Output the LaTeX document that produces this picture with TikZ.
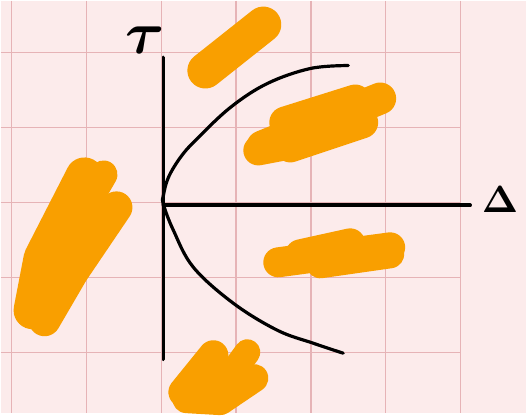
\documentclass[tikz,border=0pt]{standalone}
\usepackage{amsmath,amssymb,bm}
\usepackage{xcolor,graphicx}
\usetikzlibrary{arrows.meta,calc,positioning}
\definecolor{paper}{HTML}{FCEBEB}
\definecolor{gridred}{HTML}{E6B3B6}
\definecolor{scribble}{HTML}{F99F00}

\begin{document}
\begin{tikzpicture}[x=1pt,y=-1pt,
  gridline/.style={gridred,line width=1.2pt},
  blob/.style={scribble,line width=#1,line cap=round,line join=round},
  blob/.default=32pt,
  axis/.style={line width=3.8pt,line cap=round},
  curve/.style={line width=3.2pt,line cap=round,line join=round}]
  \fill[paper] (0,0) rectangle (526,413);
  \foreach \i in {0,...,6} \draw[gridline] ({10.7+75*\i},0) -- ({10.7+75*\i},413);
  \foreach \j in {0,...,4} \draw[gridline] (0,{52+75*\j}) -- (461,{52+75*\j});
  \coordinate (O) at (163,205);
  \coordinate (top) at (163,57);
  \coordinate (bot) at (163,359);
  \coordinate (right) at (470,205);
  \node (tau) at (145,40) {\scalebox{6}{$\bm{\tau}$}};
  \node (delta) at (500,199) {\scalebox{3.8}{$\bm{\Delta}$}};
  \draw[axis] (top) -- (bot);
  \draw[axis] (O) -- (right);
  \draw[curve] plot[smooth,tension=0.6] coordinates {(348,65) (310,68) (267,83) (230,107) (195,140) (180,157) (168,177) (163,195) (163,204) (173,230) (193,267) (233,303) (277,330) (313,343) (343,353)};
  % upper scribbles
  \draw[blob=36pt] (205,70) -- (263,24);
  \draw[blob=32pt] (262,146) -- (380,98);
  \draw[blob=32pt] (285,122) -- (355,100);
  \draw[blob=32pt] (290,146) -- (362,122);
  \draw[blob=30pt] (258,150) -- (300,142);
  % lower right
  \draw[blob=30pt] (278,262) -- (390,247);
  \draw[blob=30pt] (300,254) -- (350,243);
  \draw[blob=28pt] (320,264) -- (390,254);
  % left
  \draw[blob=38pt] (84,176) -- (42,258) -- (32,310);
  \draw[blob=28pt] (103,174) -- (88,200);
  \draw[blob=32pt] (116,207) -- (72,272) -- (44,320);
  \draw[blob=40pt] (88,205) -- (60,262);
  \draw[blob=40pt] (72,228) -- (56,280);
  % bottom
  \draw[blob=30pt] (213,355) -- (183,392);
  \draw[blob=26pt] (247,352) -- (236,367);
  \draw[blob=28pt] (254,378) -- (220,401) -- (186,399);
  \draw[blob=34pt] (225,375) -- (202,394);
\end{tikzpicture}
\end{document}
